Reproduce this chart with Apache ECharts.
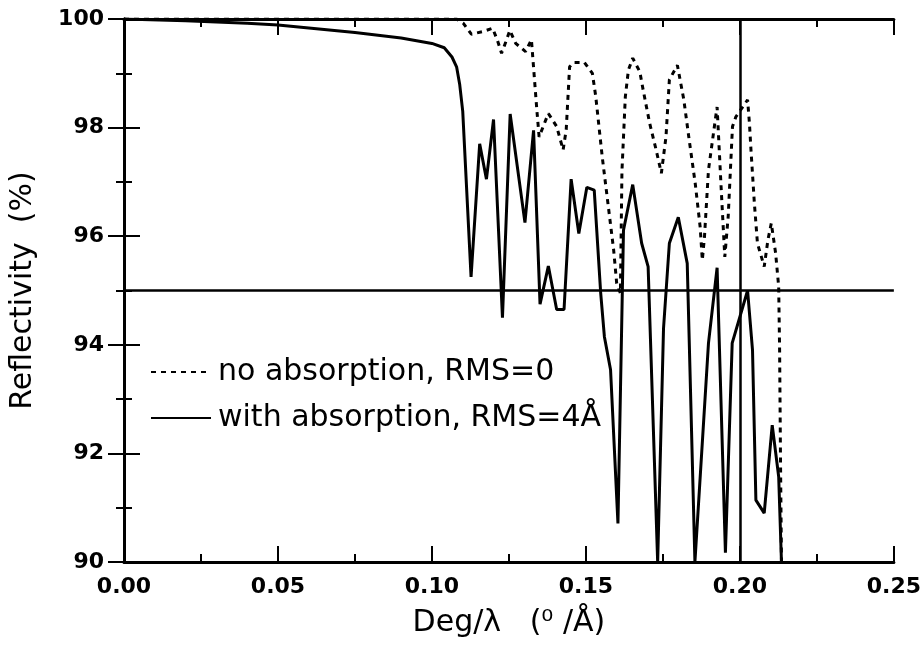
<!DOCTYPE html>
<html>
<head>
<meta charset="utf-8">
<script src="https://cdn.jsdelivr.net/npm/echarts@6/dist/echarts.min.js"></script>
<style>
  html, body { margin: 0; padding: 0; background: #fff; }
  #chart { width: 924px; height: 649px; }
</style>
</head>
<body>
<div id="chart"></div>
<script>
// series: [Deg/lambda, reflectivity %]
const withAbsorption = [
  [0, 100], [0.02, 99.97], [0.04, 99.92], [0.05, 99.89], [0.075, 99.75],
  [0.09, 99.65], [0.10, 99.55], [0.104, 99.47], [0.1065, 99.3], [0.108, 99.12],
  [0.109, 98.8], [0.110, 98.3], [0.1127, 95.25], [0.1155, 97.7], [0.1177, 97.05],
  [0.1200, 98.15], [0.1229, 94.5], [0.1254, 98.25], [0.1302, 96.25], [0.1330, 97.95],
  [0.1351, 94.75], [0.1378, 95.45], [0.1405, 94.65], [0.1429, 94.65], [0.1452, 97.05],
  [0.1477, 96.05], [0.1503, 96.9], [0.1527, 96.85], [0.1548, 94.95], [0.1560, 94.15],
  [0.1580, 93.54], [0.1604, 90.71], [0.1622, 96.11], [0.1652, 96.95], [0.1681, 95.87],
  [0.1702, 95.44], [0.1733, 90.0], [0.1752, 94.3], [0.1771, 95.87], [0.1800, 96.35],
  [0.1829, 95.5], [0.1854, 90.0], [0.1898, 94.03], [0.1926, 95.42], [0.1953, 90.17],
  [0.1975, 94.03], [0.2025, 95.0], [0.2041, 93.9], [0.2052, 91.14], [0.2079, 90.9],
  [0.2105, 92.52], [0.2126, 91.57], [0.2135, 90.0]
]
const noAbsorption = [
  [0, 100], [0.05, 100], [0.10, 100], [0.108, 100], [0.1102, 99.92],
  [0.1128, 99.72], [0.1166, 99.77], [0.1197, 99.83], [0.1213, 99.6], [0.1226, 99.37],
  [0.1240, 99.58], [0.1253, 99.79], [0.1272, 99.55], [0.1304, 99.4], [0.1323, 99.62],
  [0.1341, 98.3], [0.1348, 97.83], [0.1378, 98.26], [0.1405, 98.02], [0.1426, 97.59],
  [0.1436, 97.96], [0.1447, 99.12], [0.1460, 99.2], [0.1495, 99.2], [0.1521, 99.0],
  [0.1532, 98.57], [0.1553, 97.46], [0.1590, 95.75], [0.1600, 95.13], [0.1612, 94.95],
  [0.1617, 97.2], [0.1628, 98.57], [0.1638, 99.06], [0.1652, 99.28], [0.1675, 99.03],
  [0.1686, 98.69], [0.1707, 98.08], [0.1728, 97.59], [0.1745, 97.16], [0.1760, 97.83],
  [0.1771, 98.88], [0.1797, 99.15], [0.1818, 98.51], [0.1834, 97.83], [0.1855, 96.97],
  [0.1871, 96.17], [0.1878, 95.56], [0.1885, 95.99], [0.1898, 97.22], [0.1920, 98.14],
  [0.1926, 98.38], [0.1940, 96.79], [0.1951, 95.62], [0.1962, 96.36], [0.1976, 98.02],
  [0.1987, 98.2], [0.2025, 98.51], [0.2031, 98.08], [0.2036, 97.59], [0.2047, 96.61],
  [0.2057, 95.87], [0.2079, 95.44], [0.2091, 95.93], [0.2102, 96.24], [0.2116, 95.69],
  [0.2126, 95.07], [0.2129, 93.9], [0.2132, 91.82], [0.2135, 90.0]
]
const legendNames = ['no absorption, RMS=0', 'with absorption, RMS=4Å']
const refReflectivity = 95
const refDeg = 0.20

const chart = echarts.init(document.getElementById('chart'))
const font = 'DejaVu Sans'
const axisLine = { show: true, lineStyle: { color: '#000', width: 3 } }
const axisTick = { show: true, inside: true, length: 16, lineStyle: { color: '#000', width: 2 } }
const minorTick = { show: true, splitNumber: 2, length: 8, lineStyle: { color: '#000', width: 2 } }

const option = {
  animation: false,
  backgroundColor: '#fff',
  grid: { left: 124, right: 15, top: 19, bottom: 87 },
  legend: {
    data: legendNames,
    orient: 'vertical',
    left: 145,
    top: 352,
    itemWidth: 60,
    itemHeight: 14,
    itemGap: 16,
    itemStyle: { opacity: 0 },
    textStyle: { fontFamily: font, fontSize: 30, color: '#000', padding: [0, 0, 0, 2] }
  },
  xAxis: [
    {
      type: 'value', min: 0, max: 0.25, interval: 0.05,
      name: 'Deg/λ   (⁰ /Å)', nameLocation: 'middle', nameGap: 46,
      nameTextStyle: { fontFamily: font, fontSize: 30, color: '#000' },
      axisLine, axisTick, minorTick,
      splitLine: { show: false },
      axisLabel: {
        color: '#000', fontFamily: font, fontSize: 22, fontWeight: 'bold', margin: 14,
        formatter: v => v.toFixed(2)
      }
    },
    {
      type: 'value', min: 0, max: 0.25, interval: 0.05, position: 'top',
      axisLine, axisTick, minorTick,
      splitLine: { show: false }, axisLabel: { show: false }
    }
  ],
  yAxis: [
    {
      type: 'value', min: 90, max: 100, interval: 2,
      name: 'Reflectivity  (%)', nameLocation: 'middle', nameGap: 86,
      nameTextStyle: { fontFamily: font, fontSize: 30, color: '#000' },
      axisLine, axisTick, minorTick,
      splitLine: { show: false },
      axisLabel: { color: '#000', fontFamily: font, fontSize: 22, fontWeight: 'bold', margin: 20 }
    },
    {
      type: 'value', min: 90, max: 100, interval: 2, position: 'right',
      axisLine, axisTick, minorTick,
      splitLine: { show: false }, axisLabel: { show: false }
    }
  ],
  series: [
    {
      name: legendNames[0],
      type: 'line',
      data: noAbsorption,
      showSymbol: false,
      symbol: 'none',
      clip: true,
      lineStyle: { color: '#000', width: 3, type: [5, 5] },
      itemStyle: { color: '#000' },
      z: 3
    },
    {
      name: legendNames[1],
      type: 'line',
      data: withAbsorption,
      showSymbol: false,
      symbol: 'none',
      clip: true,
      lineStyle: { color: '#000', width: 3 },
      itemStyle: { color: '#000' },
      z: 4,
      markLine: {
        silent: true,
        symbol: 'none',
        label: { show: false },
        lineStyle: { color: '#000', width: 2.5, type: 'solid' },
        data: [{ yAxis: refReflectivity }, { xAxis: refDeg }]
      }
    }
  ]
}
chart.setOption(option)
</script>
</body>
</html>
